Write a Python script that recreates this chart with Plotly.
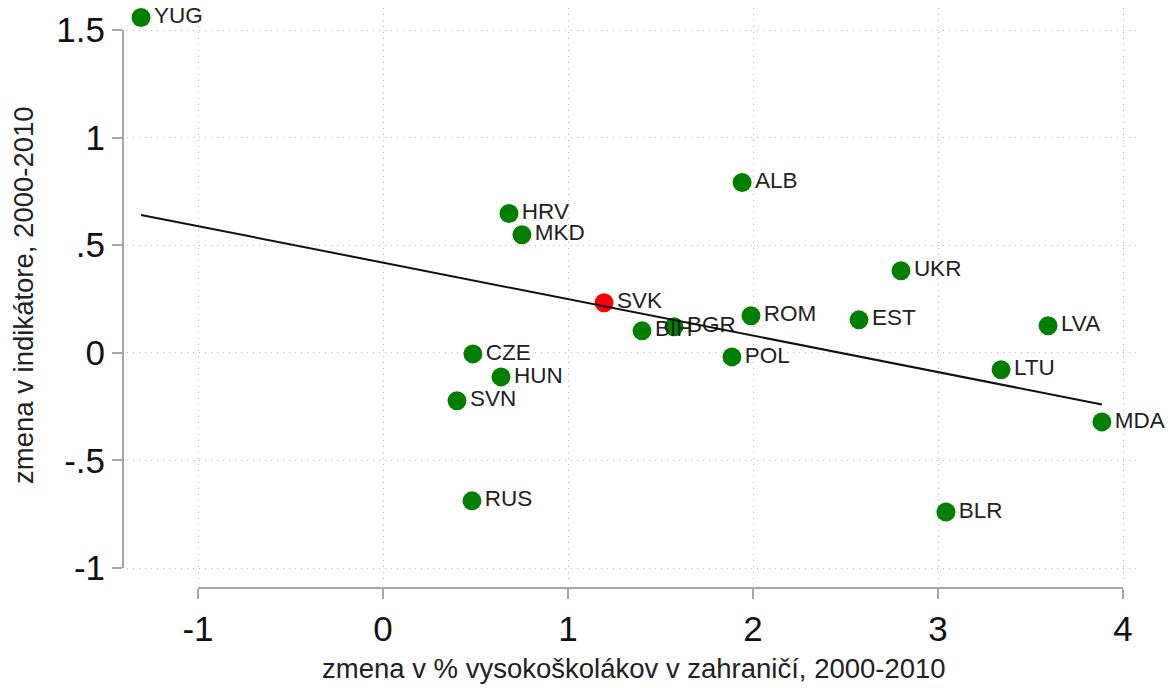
import numpy as np
import plotly.graph_objects as go

countries = ["YUG", "ALB", "HRV", "MKD", "UKR", "SVK", "ROM", "EST", "LVA", "BGR",
             "BIH", "CZE", "POL", "LTU", "HUN", "SVN", "MDA", "RUS", "BLR"]
x_vals = [-1.308, 1.941, 0.681, 0.751, 2.800, 1.195, 1.989, 2.573, 3.595, 1.573,
          1.400, 0.486, 1.886, 3.341, 0.638, 0.400, 3.886, 0.481, 3.043]
y_vals = [1.558, 0.791, 0.647, 0.549, 0.381, 0.233, 0.172, 0.153, 0.126, 0.121,
          0.102, -0.005, -0.019, -0.079, -0.112, -0.223, -0.321, -0.688, -0.740]
highlight = "SVK"

x_ticks = [-1, 0, 1, 2, 3, 4]
x_ticktext = ["-1", "0", "1", "2", "3", "4"]
y_ticks = [-1, -0.5, 0, 0.5, 1, 1.5]
y_ticktext = ["-1", "-.5", "0", ".5", "1", "1.5"]

x_title = "zmena v % vysokoškolákov v zahraničí, 2000-2010"
y_title = "zmena v indikátore, 2000-2010"

# OLS fit line across the data range
slope, intercept = np.polyfit(x_vals, y_vals, 1)
fit_x = [min(x_vals), max(x_vals)]
fit_y = [intercept + slope * v for v in fit_x]

# ---- layout geometry ----
# target positions are given in screen pixels; the page body adds an 8px offset
W, H = 1175, 688
OFF = 8
axis_x_px = 123      # screen x of the y-axis line
axis_y_px = 588      # screen y of the x-axis line
plot_left, plot_right, plot_top, plot_bottom = 127, 1140, OFF, 581

ml = axis_x_px - OFF
mt = plot_top - OFF
mr = W - (plot_right - OFF)
mb = H - (axis_y_px - OFF)
pw, ph = W - ml - mr, H - mt - mb

def fx(px):
    return (px - OFF - ml) / pw

def fy(py):
    return (H - mb - (py - OFF)) / ph

# data-to-screen mapping: x=0 at 383, 185 px/unit; y=0 at 352.8, 215.2 px/unit
x0px, xs = 383.0, 185.0
y0px, ys = 352.8, 215.2

FONT = "Liberation Sans, Arial, sans-serif"
GREEN = "#007f00"
RED = "#ff0000"
AXIS = "#a6a6a6"
GRID = "#b8b8b8"

colors = [RED if c == highlight else GREEN for c in countries]

fig = go.Figure()
fig.add_trace(go.Scatter(
    x=x_vals, y=y_vals, mode="markers+text", text=countries,
    textposition="middle right",
    textfont=dict(family=FONT, size=22.5, color="#222222"),
    marker=dict(size=19, color=colors, line=dict(width=0)),
    showlegend=False, hoverinfo="skip", cliponaxis=False,
))
fig.add_trace(go.Scatter(
    x=fit_x, y=fit_y, mode="lines",
    line=dict(color="#111111", width=2),
    showlegend=False, hoverinfo="skip",
))
# dummy trace to materialize the offset axes
fig.add_trace(go.Scatter(x=[None], y=[None], xaxis="x2", yaxis="y2",
                         showlegend=False, hoverinfo="skip"))

grid_common = dict(showgrid=True, gridcolor=GRID, griddash="1px,5px", gridwidth=1.2,
                   zeroline=False, showline=False, showticklabels=False, ticks="",
                   automargin=False)
axis_common = dict(anchor="free", position=0,
                   ticks="outside", ticklen=10, tickwidth=2, tickcolor=AXIS,
                   showline=True, linecolor=AXIS, linewidth=2,
                   showgrid=False, zeroline=False, automargin=False,
                   tickfont=dict(family=FONT, size=35, color="#111111"))

fig.update_layout(
    width=W, height=H,
    margin=dict(l=ml, r=mr, t=mt, b=mb, pad=0, autoexpand=False),
    paper_bgcolor="white", plot_bgcolor="rgba(0,0,0,0)",
    font=dict(family=FONT, color="#111111"),
    xaxis=dict(
        domain=[fx(plot_left), fx(plot_right)],
        range=[(plot_left - x0px) / xs, (plot_right - x0px) / xs],
        tickvals=x_ticks, **grid_common,
    ),
    yaxis=dict(
        domain=[fy(plot_bottom), fy(plot_top)],
        range=[(y0px - plot_bottom) / ys, (y0px - plot_top) / ys],
        tickvals=y_ticks, **grid_common,
    ),
    xaxis2=dict(
        domain=[fx(x0px + xs * x_ticks[0]), fx(x0px + xs * x_ticks[-1])],
        range=[x_ticks[0], x_ticks[-1]], side="bottom",
        tickvals=x_ticks, ticktext=x_ticktext, **axis_common,
    ),
    yaxis2=dict(
        domain=[fy(y0px - ys * y_ticks[0]), fy(y0px - ys * y_ticks[-1])],
        range=[y_ticks[0], y_ticks[-1]], side="left",
        tickvals=y_ticks, ticktext=y_ticktext, **axis_common,
    ),
    annotations=[
        dict(text=x_title, xref="paper", yref="paper",
             x=(fx(plot_left) + fx(plot_right)) / 2, y=fy(668),
             xanchor="center", yanchor="middle", showarrow=False,
             font=dict(family=FONT, size=27.5, color="#222222")),
        dict(text=y_title, xref="paper", yref="paper",
             x=fx(23), y=fy(295), textangle=-90,
             xanchor="center", yanchor="middle", showarrow=False,
             font=dict(family=FONT, size=27.5, color="#222222")),
    ],
)

fig.write_html("out.html")
